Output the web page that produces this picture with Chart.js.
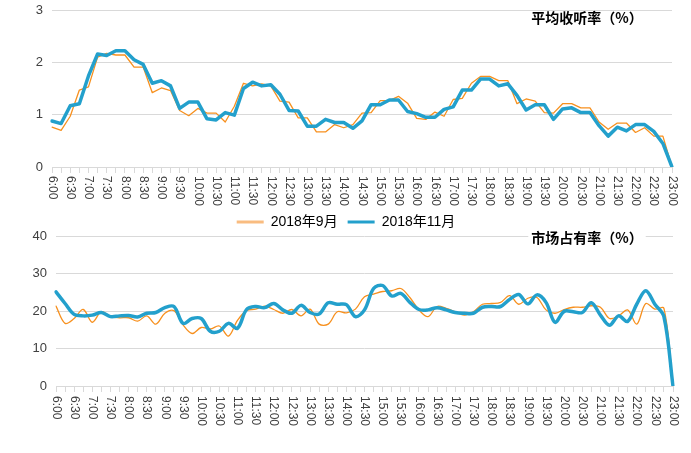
<!DOCTYPE html>
<html><head><meta charset="utf-8">
<script src="https://cdn.jsdelivr.net/npm/chart.js@4.4.1/dist/chart.umd.min.js"></script>
<style>
html,body{margin:0;padding:0;background:#fff;}
#wrap{position:relative;width:691px;height:453px;overflow:hidden;background:#fff;}
#c1wrap{position:absolute;left:0;top:0;width:691px;height:240px;}
#c2wrap{position:absolute;left:0;top:226px;width:691px;height:227px;}
</style></head><body>
<div id="wrap"><div id="c1wrap"><canvas id="c1" width="691" height="240"></canvas></div><div id="c2wrap"><canvas id="c2" width="691" height="227"></canvas></div></div>
<script>
const timeLabels = ['6:00','6:15','6:30','6:45','7:00','7:15','7:30','7:45','8:00','8:15','8:30','8:45','9:00','9:15','9:30','9:45',
'10:00','10:15','10:30','10:45','11:00','11:15','11:30','11:45','12:00','12:15','12:30','12:45','13:00','13:15','13:30','13:45',
'14:00','14:15','14:30','14:45','15:00','15:15','15:30','15:45','16:00','16:15','16:30','16:45','17:00','17:15','17:30','17:45',
'18:00','18:15','18:30','18:45','19:00','19:15','19:30','19:45','20:00','20:15','20:30','20:45','21:00','21:15','21:30','21:45',
'22:00','22:15','22:30','22:45','23:00'];
const seriesNames = ['2018年9月', '2018年11月'];
const chartTitles = ['平均收听率（%）', '市场占有率（%）'];

// 平均收听率
const listenSep = [0.76,0.70,0.97,1.47,1.53,2.10,2.17,2.14,2.14,1.91,1.91,1.42,1.51,1.46,1.08,0.98,1.12,1.03,1.03,0.86,1.16,
  1.60,1.55,1.59,1.55,1.26,1.24,0.94,0.94,0.67,0.67,0.81,0.75,0.81,1.03,1.04,1.27,1.27,1.35,1.22,0.93,0.91,1.05,0.97,1.29,1.31,
  1.60,1.73,1.73,1.65,1.65,1.21,1.30,1.26,1.04,1.03,1.21,1.21,1.13,1.13,0.86,0.72,0.84,0.84,0.66,0.75,0.59,0.59,0];
const listenNov = [0.88,0.83,1.17,1.21,1.74,2.16,2.13,2.22,2.22,2.05,1.96,1.60,1.65,1.55,1.12,1.24,1.24,0.92,0.90,1.04,0.99,
  1.50,1.62,1.55,1.57,1.39,1.08,1.07,0.78,0.78,0.91,0.85,0.85,0.74,0.88,1.19,1.19,1.28,1.28,1.06,1.02,0.95,0.95,1.10,1.15,1.47,
  1.47,1.68,1.68,1.55,1.59,1.37,1.09,1.19,1.19,0.91,1.11,1.13,1.04,1.04,0.79,0.59,0.76,0.69,0.81,0.81,0.68,0.45,0];

// 市场占有率
const shareSep = [21.3,16.7,18.0,20.4,17.0,19.8,18.5,18.2,18.2,17.3,18.7,16.5,19.4,20.1,16.3,14.0,15.6,
  15.2,16.0,13.3,17.5,20.1,20.5,21.3,20.4,19.4,20.4,18.7,20.5,16.5,16.5,19.8,19.5,20.5,
  23.8,24.5,25.2,25.4,26.0,23.6,20.3,18.5,21.2,20.7,19.8,18.9,19.8,21.8,22.0,22.3,24.1,
  21.8,23.4,23.6,20.3,19.4,20.4,21.0,21.0,21.4,21.0,18.0,18.7,20.3,16.5,22.0,20.5,20.7,0];
const shareNov = [25.1,22.0,19.1,18.7,18.9,19.6,18.5,18.7,18.8,18.4,19.4,19.6,20.9,21.2,16.7,18.0,18.0,
  14.6,14.6,16.7,15.4,20.4,21.2,20.9,22.0,20.3,19.4,21.5,19.6,19.2,22.2,21.8,21.7,18.5,
  20.3,26.0,26.8,24.0,24.7,22.3,20.4,20.3,20.9,20.3,19.6,19.4,19.4,21.0,21.2,21.2,23.1,
  24.4,21.9,24.3,22.3,17.0,19.9,19.8,19.6,22.2,18.9,16.2,18.7,17.2,21.8,25.4,21.8,18.5,0];

const ORANGE = '#F7901E', ORANGE_LEG = '#F9BC80', BLUE = '#23A0CC';
const GRID = '#D9D9D9', TXT = '#404040';
const NUMFONT = '"Liberation Sans", "Noto Sans CJK SC", sans-serif';

const overlay = {
  id: 'overlay',
  afterLayout(chart, args, o) {
    if (chart.legend && o.legendShift) {
      chart.legend.left += o.legendShift;
      chart.legend.right += o.legendShift;
    }
  },
  afterDraw(chart, args, o) {
    const ctx = chart.ctx, sx = chart.scales.x, area = chart.chartArea;
    ctx.save();
    ctx.font = '12px ' + NUMFONT;
    ctx.fillStyle = TXT;
    ctx.textAlign = 'left'; ctx.textBaseline = 'middle';
    chart.data.labels.forEach((lab, i) => {
      if (i % 2) return;
      const x = sx.getPixelForValue(i);
      ctx.save(); ctx.translate(x, area.bottom + o.gap); ctx.rotate(Math.PI / 2);
      ctx.fillText(lab, 0, 0); ctx.restore();
    });
    ctx.font = 'bold 14px "Noto Sans CJK SC", sans-serif';
    const w = ctx.measureText(o.title).width;
    if (o.titleBg) {
      ctx.fillStyle = '#fff';
      ctx.fillRect(o.tx - w / 2 - 3, o.ty - 9, w + 6, 18);
    }
    ctx.fillStyle = '#000'; ctx.textAlign = 'center';
    ctx.fillText(o.title, o.tx, o.ty);
    ctx.restore();
  }
};

function makeChart(id, sep, nov, ymax, ystep, tension, cfg) {
  return new Chart(document.getElementById(id), {
    type: 'line',
    data: {
      labels: timeLabels,
      datasets: [
        { label: seriesNames[0], data: sep, borderColor: ORANGE, backgroundColor: ORANGE_LEG, borderWidth: 1.3,
          pointRadius: 0, tension: tension, fill: false, order: 1, borderJoinStyle: 'round', borderCapStyle: 'round' },
        { label: seriesNames[1], data: nov, borderColor: BLUE, backgroundColor: BLUE, borderWidth: 3.5,
          pointRadius: 0, tension: tension, fill: false, order: 0, borderJoinStyle: 'round', borderCapStyle: 'round' }
      ]
    },
    plugins: [overlay],
    options: {
      responsive: false, animation: false, devicePixelRatio: 1,
      layout: { padding: cfg.padding },
      plugins: {
        tooltip: { enabled: false },
        overlay: { gap: cfg.gap, title: cfg.title, tx: 587, ty: cfg.ty, titleBg: cfg.titleBg, legendShift: cfg.legend ? 10 : 0 },
        legend: cfg.legend ? {
          display: true, position: 'bottom',
          labels: {
            font: { size: 14, family: NUMFONT }, color: '#000', boxWidth: 27, boxHeight: 3, padding: 10,
            sort: (a, b) => a.datasetIndex - b.datasetIndex,
            generateLabels: (ch) => ch.data.datasets.map((d, i) => ({
              text: d.label, fillStyle: d.backgroundColor, strokeStyle: d.backgroundColor, lineWidth: 0,
              hidden: false, datasetIndex: i, fontColor: '#000'
            }))
          }
        } : { display: false }
      },
      scales: {
        x: {
          type: 'category', offset: false,
          grid: { display: true, drawOnChartArea: false, drawTicks: true, tickLength: 6, color: GRID },
          border: { display: true, color: GRID, width: 1 },
          ticks: { display: false, autoSkip: false },
          afterFit: (s) => { s.height = cfg.xh; s.paddingLeft = 0; s.paddingRight = 0; }
        },
        y: {
          min: 0, max: ymax,
          ticks: { stepSize: ystep, font: { size: 13, family: NUMFONT }, color: TXT, padding: 9 },
          grid: { color: GRID, drawTicks: false },
          border: { display: false },
          afterFit: (s) => { s.width = cfg.yw; s.paddingTop = 0; s.paddingBottom = 0; }
        }
      }
    }
  });
}

makeChart('c1', listenSep, listenNov, 3, 1, 0,
  { padding: { left: 0, right: 19, top: 10, bottom: 1 }, gap: 9, title: chartTitles[0], ty: 18, titleBg: false, legend: true, xh: 38, yw: 52 });
makeChart('c2', shareSep, shareNov, 40, 10, 0.35,
  { padding: { left: 0, right: 18, top: 10, bottom: 0 }, gap: 10, title: chartTitles[1], ty: 12, titleBg: true, legend: false, xh: 67, yw: 56 });
</script>
</body></html>
